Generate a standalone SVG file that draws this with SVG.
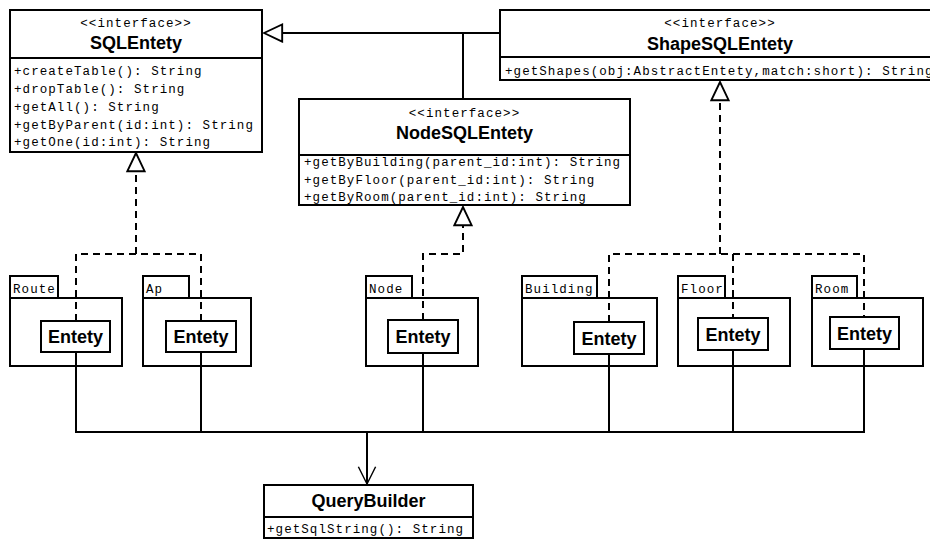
<svg xmlns="http://www.w3.org/2000/svg" width="930" height="539" viewBox="0 0 930 539">
  <style>
    .box { fill: #ffffff; stroke: #000000; stroke-width: 2; }
    .sep { stroke: #000000; stroke-width: 2; fill: none; }
    .mono { font-family: "Liberation Mono", "Courier New", monospace; font-size: 12.5px; letter-spacing: 1.07px; fill: #000000; }
    .ster { text-anchor: middle; }
    .title { font-family: "Liberation Sans", Arial, sans-serif; font-size: 18px; font-weight: bold; fill: #000000; text-anchor: middle; }
    .solid { stroke: #000000; stroke-width: 2; fill: none; }
    .dash { stroke: #000000; stroke-width: 2; fill: none; stroke-dasharray: 7 5; }
  </style>
  <defs>
    <marker id="hollowTri" markerUnits="userSpaceOnUse" markerWidth="22" markerHeight="22" viewBox="-2 -2 23 22" refX="19" refY="9" orient="auto">
      <path d="M0,0 L19,9 L0,18 Z" fill="#ffffff" stroke="#000000" stroke-width="2" stroke-dasharray="none"/>
    </marker>
    <marker id="openArrow" markerUnits="userSpaceOnUse" markerWidth="22" markerHeight="22" viewBox="-2 -2 23 22" refX="18" refY="9" orient="auto">
      <path d="M0,0 L18,9 L0,18" fill="none" stroke="#000000" stroke-width="1.5"/>
    </marker>
  </defs>

  <rect width="930" height="539" fill="#ffffff"/>

  <!-- interface SQLEntety -->
  <g id="SQLEntety">
    <rect class="box" x="10" y="10" width="252" height="142"/>
    <line class="sep" x1="10" y1="58" x2="262" y2="58"/>
    <text class="mono ster" x="136" y="27">&lt;&lt;interface&gt;&gt;</text>
    <text class="title" x="136" y="49">SQLEntety</text>
    <text class="mono" x="14" y="75">+createTable(): String</text>
    <text class="mono" x="14" y="93">+dropTable(): String</text>
    <text class="mono" x="14" y="110.5">+getAll(): String</text>
    <text class="mono" x="14" y="128.5">+getByParent(id:int): String</text>
    <text class="mono" x="14" y="146">+getOne(id:int): String</text>
  </g>

  <!-- interface ShapeSQLEntety (runs past the right edge) -->
  <g id="ShapeSQLEntety">
    <rect class="box" x="500" y="10" width="440" height="70"/>
    <line class="sep" x1="500" y1="57" x2="940" y2="57"/>
    <text class="mono ster" x="720" y="27">&lt;&lt;interface&gt;&gt;</text>
    <text class="title" x="720" y="50">ShapeSQLEntety</text>
    <text class="mono" x="505" y="75">+getShapes(obj:AbstractEntety,match:short): String</text>
  </g>

  <!-- interface NodeSQLEntety -->
  <g id="NodeSQLEntety">
    <rect class="box" x="299" y="99" width="331" height="106"/>
    <line class="sep" x1="299" y1="155" x2="630" y2="155"/>
    <text class="mono ster" x="464.5" y="117">&lt;&lt;interface&gt;&gt;</text>
    <text class="title" x="464.5" y="139">NodeSQLEntety</text>
    <text class="mono" x="304" y="166">+getByBuilding(parent_id:int): String</text>
    <text class="mono" x="304" y="183.5">+getByFloor(parent_id:int): String</text>
    <text class="mono" x="304" y="200.5">+getByRoom(parent_id:int): String</text>
  </g>

  <!-- packages, each holding an Entety class -->
  <g id="Route">
    <rect class="box" x="10" y="276" width="48" height="22"/>
    <rect class="box" x="10" y="298" width="112" height="68"/>
    <text class="mono" x="13" y="293">Route</text>
    <rect class="box" x="41" y="321" width="69" height="31"/>
    <text class="title" x="75.5" y="343">Entety</text>
  </g>

  <g id="Ap">
    <rect class="box" x="143" y="276" width="46" height="22"/>
    <rect class="box" x="143" y="298" width="108" height="68"/>
    <text class="mono" x="146" y="293">Ap</text>
    <rect class="box" x="166" y="321" width="70" height="31"/>
    <text class="title" x="201" y="343">Entety</text>
  </g>

  <g id="Node">
    <rect class="box" x="366" y="276" width="46" height="22"/>
    <rect class="box" x="366" y="298" width="112" height="68"/>
    <text class="mono" x="369" y="293">Node</text>
    <rect class="box" x="388" y="320" width="70" height="33"/>
    <text class="title" x="423" y="343">Entety</text>
  </g>

  <g id="Building">
    <rect class="box" x="522" y="276" width="75" height="22"/>
    <rect class="box" x="522" y="298" width="135" height="68"/>
    <text class="mono" x="525" y="293">Building</text>
    <rect class="box" x="574" y="322" width="70" height="32"/>
    <text class="title" x="609" y="344.5">Entety</text>
  </g>

  <g id="Floor">
    <rect class="box" x="678" y="276" width="47" height="22"/>
    <rect class="box" x="678" y="298" width="112" height="68"/>
    <text class="mono" x="681" y="293">Floor</text>
    <rect class="box" x="698" y="318" width="70" height="32"/>
    <text class="title" x="733" y="340.5">Entety</text>
  </g>

  <g id="Room">
    <rect class="box" x="812" y="276" width="45" height="22"/>
    <rect class="box" x="812" y="298" width="111" height="68"/>
    <text class="mono" x="815" y="293">Room</text>
    <rect class="box" x="830" y="317" width="69" height="32"/>
    <text class="title" x="864.5" y="339.5">Entety</text>
  </g>

  <!-- class QueryBuilder -->
  <g id="QueryBuilder">
    <rect class="box" x="264" y="485" width="209" height="53"/>
    <line class="sep" x1="264" y1="517" x2="473" y2="517"/>
    <text class="title" x="368.5" y="507">QueryBuilder</text>
    <text class="mono" x="267" y="533">+getSqlString(): String</text>
  </g>

  <!-- connectors -->
  <g id="connectors">
    <!-- generalization: ShapeSQLEntety / NodeSQLEntety extend SQLEntety -->
    <path class="solid" d="M500,33 H264" marker-end="url(#hollowTri)"/>
    <path class="solid" d="M463,33 V99"/>

    <!-- realization of SQLEntety by Route and Ap -->
    <path class="dash" d="M76,321 V254 H201 V321"/>
    <path class="dash" d="M136,254 V153" marker-end="url(#hollowTri)"/>

    <!-- realization of NodeSQLEntety by Node -->
    <path class="dash" d="M423,320 V254 H463 V207" marker-end="url(#hollowTri)"/>

    <!-- realization of ShapeSQLEntety by Building, Floor and Room -->
    <path class="dash" d="M609,322 V254 H864 V317"/>
    <path class="dash" d="M733,254 V318"/>
    <path class="dash" d="M720,254 V82" marker-end="url(#hollowTri)"/>

    <!-- usage: every Entety feeds QueryBuilder -->
    <path class="solid" d="M76,352 V432"/>
    <path class="solid" d="M201,352 V432"/>
    <path class="solid" d="M423,353 V432"/>
    <path class="solid" d="M609,354 V432"/>
    <path class="solid" d="M733,350 V432"/>
    <path class="solid" d="M864,349 V432"/>
    <path class="solid" d="M75,432 H865"/>
    <path class="solid" d="M367,432 V484" marker-end="url(#openArrow)"/>
  </g>
</svg>
